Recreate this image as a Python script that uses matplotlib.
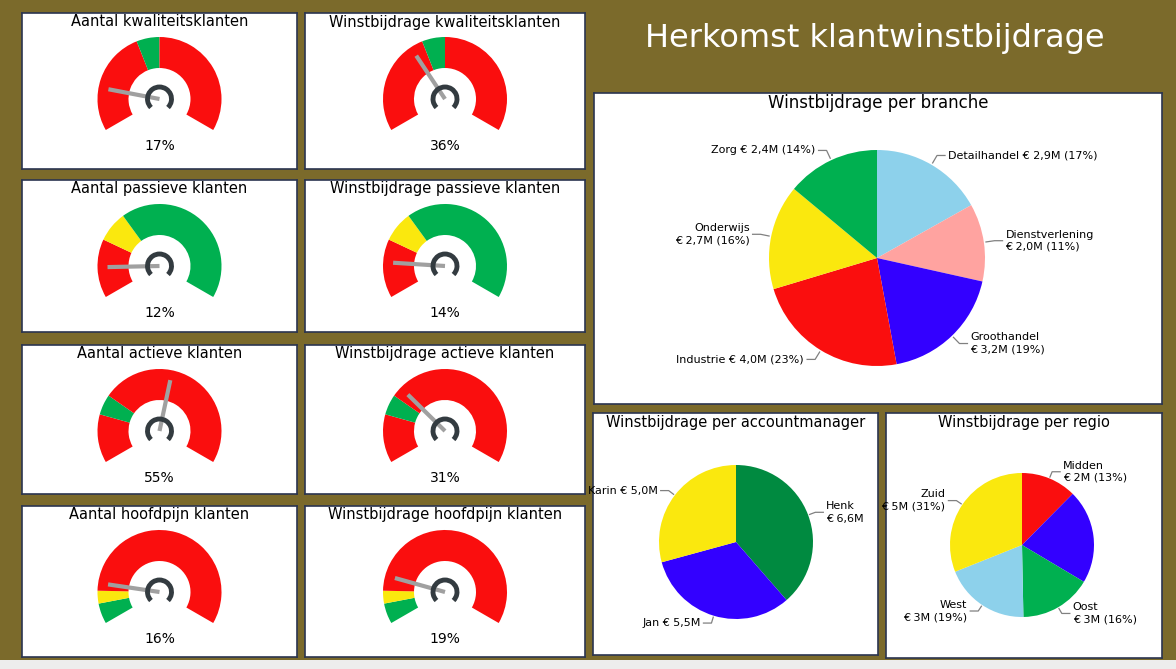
import numpy as np
import matplotlib.pyplot as plt
from matplotlib.patches import Wedge, Arc, Rectangle

W, H = 1176, 669
BG = "#7B6A2B"
BORDER = "#2B3550"

# ---- gauge data ----
gauge_titles = [
    "Aantal kwaliteitsklanten", "Winstbijdrage kwaliteitsklanten",
    "Aantal passieve klanten", "Winstbijdrage passieve klanten",
    "Aantal actieve klanten", "Winstbijdrage actieve klanten",
    "Aantal hoofdpijn klanten", "Winstbijdrage hoofdpijn klanten",
]
gauge_values = [17, 36, 12, 14, 55, 31, 16, 19]
# band edges (%) and colours per gauge
band_edges = [
    [0, 41, 50, 100], [0, 41, 50, 100],
    [0, 23, 35, 100], [0, 23, 35, 100],
    [0, 19, 27, 100], [0, 19, 27, 100],
    [0, 8, 13, 100], [0, 8, 13, 100],
]
band_colors = [
    ["#FA0E0E", "#00B050", "#FA0E0E"], ["#FA0E0E", "#00B050", "#FA0E0E"],
    ["#FA0E0E", "#FAE80E", "#00B050"], ["#FA0E0E", "#FAE80E", "#00B050"],
    ["#FA0E0E", "#00B050", "#FA0E0E"], ["#FA0E0E", "#00B050", "#FA0E0E"],
    ["#00B050", "#FAE80E", "#FA0E0E"], ["#00B050", "#FAE80E", "#FA0E0E"],
]

# ---- pie data ----
branche = ["Detailhandel", "Dienstverlening", "Groothandel", "Industrie", "Onderwijs", "Zorg"]
branche_val = [2.9, 2.0, 3.2, 4.0, 2.7, 2.4]
branche_pct = [17, 11, 19, 23, 16, 14]
branche_col = ["#8DD1EB", "#FFA3A0", "#3300FF", "#FA0E0E", "#FAE80E", "#00B050"]

managers = ["Henk", "Jan", "Karin"]
manager_val = [6.6, 5.5, 5.0]
manager_col = ["#008A40", "#3300FF", "#FAE80E"]

regio = ["Midden", "", "Oost", "West", "Zuid"]
regio_val = [2.0, 3.4, 2.6, 3.1, 5.0]
regio_pct = [13, 21, 16, 19, 31]
regio_col = ["#FA0E0E", "#3300FF", "#00B050", "#8DD1EB", "#FAE80E"]

fig = plt.figure(figsize=(W / 100, H / 100), dpi=100)
fig.patch.set_facecolor(BG)


def panel(x0, y0, x1, y1):
    ax = fig.add_axes([x0 / W, 1 - y1 / H, (x1 - x0) / W, (y1 - y0) / H])
    ax.set_xlim(0, x1 - x0)
    ax.set_ylim(y1 - y0, 0)
    ax.set_xticks([])
    ax.set_yticks([])
    ax.set_facecolor("white")
    for s in ax.spines.values():
        s.set_color(BORDER)
        s.set_linewidth(1.2)
    return ax


def gauge(ax, title, value, edges, colors):
    w = ax.get_xlim()[1]
    cx, cy = w / 2, 86
    ro, ri = 62, 31
    ax.text(cx, 9, title, ha="center", va="center", fontsize=10.5)
    # y axis inverted: angles mirrored, so use -angle
    for a, b, c in zip(edges[:-1], edges[1:], colors):
        t1 = 210 - 240 * a / 100
        t2 = 210 - 240 * b / 100
        ax.add_patch(Wedge((cx, cy), ro, -t1, -t2, width=ro - ri, color=c, lw=0))
    ang = np.deg2rad(210 - 240 * value / 100)
    ax.plot([cx, cx + 52 * np.cos(ang)], [cy, cy - 52 * np.sin(ang)],
            color="#A0A0A0", lw=3, solid_capstyle="butt", zorder=3)
    ax.add_patch(Arc((cx, cy), 24, 24, theta1=-225, theta2=45, color="#333B40", lw=3.5, zorder=4))
    ax.text(cx, 133, f"{value}%", ha="center", va="center", fontsize=10)


cols = [(22, 297), (305, 585)]
rows = [(13, 169), (180, 332), (345, 494), (506, 657)]
for i in range(8):
    x0, x1 = cols[i % 2]
    y0, y1 = rows[i // 2]
    gauge(panel(x0, y0, x1, y1), gauge_titles[i], gauge_values[i], band_edges[i], band_colors[i])

fig.text(875 / W, 1 - 38 / H, "Herkomst klantwinstbijdrage", color="white",
         fontsize=23, ha="center", va="center")


def pie_panel(box, title, vals, colors, labels, center, r, tsize=10.5):
    ax = panel(*box)
    ph = box[3] - box[1]
    cx, cy = center[0] - box[0], ph - (center[1] - box[1])
    wedges, _ = ax.pie(vals, colors=colors, startangle=90, counterclock=False,
                       center=(cx, cy), radius=r, frame=True,
                       wedgeprops=dict(linewidth=0))
    ax.set_xlim(0, box[2] - box[0])
    ax.set_ylim(0, ph)
    ax.set_xticks([])
    ax.set_yticks([])
    ax.set_aspect("auto")
    ax.text((box[2] - box[0]) / 2, ph - 10, title, ha="center", va="center", fontsize=tsize)
    for wdg, lab in zip(wedges, labels):
        if not lab:
            continue
        m = np.deg2rad((wdg.theta1 + wdg.theta2) / 2)
        c, s = np.cos(m), np.sin(m)
        p1 = (cx + r * 1.02 * c, cy + r * 1.02 * s)
        p2 = (cx + r * 1.1 * c, cy + r * 1.1 * s)
        side = 1 if c >= 0 else -1
        p3 = (p2[0] + 8 * side, p2[1])
        ax.plot([p1[0], p2[0], p3[0]], [p1[1], p2[1], p3[1]], color="#808080", lw=0.9)
        ax.text(p3[0] + 3 * side, p3[1], lab, ha="left" if side > 0 else "right",
                va="center", fontsize=8, linespacing=1.3)
    return ax


def fmt(v):
    return f"{v:.1f}".replace(".", ",")


b_labels = []
for n, v, p in zip(branche, branche_val, branche_pct):
    if n in ("Dienstverlening", "Groothandel", "Onderwijs"):
        b_labels.append(f"{n}\n€ {fmt(v)}M ({p}%)")
    else:
        b_labels.append(f"{n} € {fmt(v)}M ({p}%)")
pie_panel((594, 93, 1162, 404), "Winstbijdrage per branche", branche_val, branche_col,
          b_labels, (877, 258), 108, tsize=12)

m_labels = []
for n, v in zip(managers, manager_val):
    m_labels.append(f"{n}\n€ {fmt(v)}M" if n == "Henk" else f"{n} € {fmt(v)}M")
pie_panel((593, 413, 878, 655), "Winstbijdrage per accountmanager", manager_val, manager_col,
          m_labels, (736, 542), 77)

r_labels = [f"{n}\n€ {round(v)}M ({p}%)" if n else "" for n, v, p in zip(regio, regio_val, regio_pct)]
pie_panel((886, 413, 1162, 658), "Winstbijdrage per regio", regio_val, regio_col,
          r_labels, (1022, 545), 72)

# bottom status strip
fig.patches.append(Rectangle((0, 0), 1, 9 / H, transform=fig.transFigure,
                             facecolor="#EDEDED", edgecolor="none"))

fig.savefig("out.png", dpi=100, facecolor=BG)
